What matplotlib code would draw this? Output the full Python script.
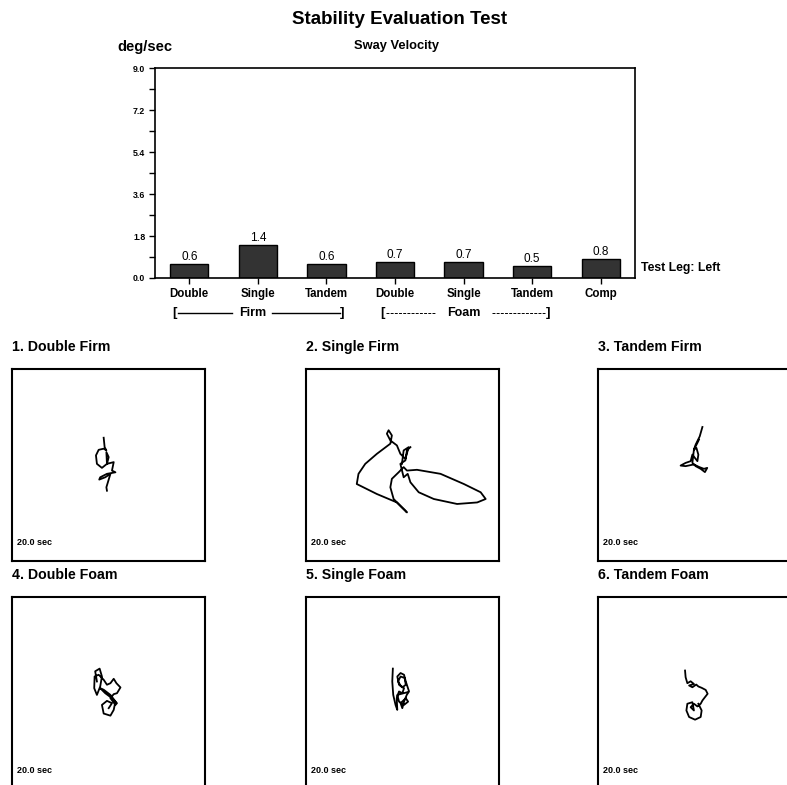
import matplotlib
matplotlib.use("Agg")
import matplotlib.pyplot as plt
import matplotlib.transforms as mtransforms

plt.rcParams['font.family'] = ['Liberation Sans Narrow', 'Liberation Sans', 'DejaVu Sans']

# Datos de la grafica de barras
pruebas = ["Double", "Single", "Tandem", "Double", "Single", "Tandem", "Comp"]
velocidades = [0.6, 1.4, 0.6, 0.7, 0.7, 0.5, 0.8]
marcas_y = [0.0, 1.8, 3.6, 5.4, 7.2, 9.0]
marcas_y_menores = [0.9, 2.7, 4.5, 6.3, 8.1]

# Trazos de balanceo (unidades 0-100 dentro de cada cuadro)
titulos = ["1. Double Firm", "2. Single Firm", "3. Tandem Firm",
           "4. Double Foam", "5. Single Foam", "6. Tandem Foam"]

traza1_x = [47.5, 48.0, 48.9, 47.5, 44.9, 43.5, 44.0, 46.6, 49.2, 50.1, 48.9,
            49.2, 52.7, 51.8, 53.6, 49.2, 45.7, 45.2, 48.3, 51.0, 48.9, 49.2]
traza1_y = [64.2, 59.3, 57.6, 58.5, 57.9, 55.0, 50.6, 48.5, 50.6, 54.1, 56.7,
            50.6, 51.5, 47.1, 46.2, 45.4, 43.6, 42.4, 43.6, 45.4, 38.4, 36.6]

traza2_x = [49.7, 50.6, 53.2, 51.5, 48.9, 47.1, 43.7, 41.9, 42.8, 44.5, 43.7,
            36.7, 30.7, 27.2, 26.3, 36.7, 47.1, 51.5, 52.3, 49.7, 45.4, 43.7,
            44.5, 48.0, 50.6, 52.3, 57.5, 69.7, 81.8, 90.5, 93.1, 88.7, 78.3,
            66.2, 58.4, 54.1, 52.7, 50.6, 48.9, 51.5, 52.3, 54.1]
traza2_y = [50.6, 57.6, 59.3, 53.2, 55.8, 60.2, 62.8, 66.3, 68.1, 65.4, 61.1,
            55.8, 50.6, 45.4, 40.1, 34.9, 30.5, 26.2, 25.3, 27.9, 32.3, 38.4,
            42.8, 46.2, 48.9, 47.1, 47.5, 45.4, 40.1, 35.8, 32.3, 30.5, 29.7,
            32.3, 35.8, 41.0, 45.4, 43.6, 50.6, 52.4, 57.6, 59.3]

traza3_x = [54.1, 52.7, 50.6, 49.7, 51.0, 52.0, 51.5, 48.9, 48.0, 45.4, 42.8,
            45.4, 49.7, 52.3, 54.9, 56.6, 55.4, 53.2, 50.6, 48.9, 49.7, 51.5, 52.3]
traza3_y = [69.8, 64.9, 60.6, 58.0, 58.9, 55.4, 52.0, 55.4, 52.0, 51.1, 49.7,
            49.4, 50.3, 49.0, 48.0, 48.5, 46.3, 48.0, 49.4, 51.1, 58.0, 61.5, 63.2]

traza4_x = [44.0, 43.1, 45.4, 46.6, 45.7, 44.0, 42.6, 42.8, 44.9, 47.5, 49.2,
            51.0, 52.7, 54.1, 56.2, 54.4, 52.7, 51.0, 53.6, 54.4, 51.8, 48.3,
            45.7, 47.5, 51.0, 53.6, 52.7, 51.0, 47.5, 46.6, 49.2, 51.8, 50.1]
traza4_y = [56.0, 61.3, 62.7, 58.6, 53.4, 49.0, 52.5, 58.6, 59.5, 56.9, 54.3,
            55.1, 57.4, 55.1, 52.9, 49.9, 49.4, 47.3, 43.8, 44.7, 47.3, 49.9,
            52.5, 51.7, 49.0, 45.6, 41.2, 38.2, 39.3, 43.8, 45.9, 44.7, 42.1]

traza5_x = [45.0, 44.7, 45.2, 46.4, 47.3, 47.0, 48.2, 49.9, 50.8, 49.0, 47.7,
            49.0, 51.1, 51.7, 49.9, 48.2, 47.3, 49.0, 50.8, 51.7, 53.4, 52.2,
            50.8, 49.9, 49.0, 51.7, 52.9, 50.8, 48.2, 47.3, 52.5]
traza5_y = [62.7, 56.0, 49.0, 43.8, 41.2, 47.3, 50.8, 49.9, 52.5, 53.9, 56.0,
            58.6, 57.8, 54.3, 52.9, 54.3, 58.6, 60.4, 59.5, 56.0, 50.8, 49.0,
            45.5, 42.1, 44.7, 47.3, 45.5, 43.8, 45.5, 49.0, 50.4]

traza6_x = [45.1, 45.4, 46.3, 48.0, 49.7, 47.2, 48.9, 50.9, 52.0, 53.7, 55.8,
            56.8, 55.4, 54.1, 53.2, 51.5, 49.7, 48.0, 49.7, 48.9, 46.3, 45.8,
            47.2, 50.3, 53.2, 53.7, 52.0]
traza6_y = [61.7, 58.2, 55.1, 56.1, 54.7, 53.9, 53.0, 54.4, 53.4, 52.7, 51.6,
            49.6, 47.8, 46.1, 44.4, 43.0, 44.4, 42.6, 40.9, 45.2, 44.4, 40.9,
            37.5, 36.1, 37.5, 40.9, 44.4]

trazas = [(traza1_x, traza1_y), (traza2_x, traza2_y), (traza3_x, traza3_y),
          (traza4_x, traza4_y), (traza5_x, traza5_y), (traza6_x, traza6_y)]

W, H = 787, 785
fig = plt.figure(figsize=(W / 100, H / 100), dpi=100)


def caja(x0, y0, ancho, alto):
    # convierte una caja en pixeles (arriba-izquierda) a fraccion de figura
    return [x0 / W, 1 - (y0 + alto) / H, ancho / W, alto / H]


# Titulos superiores
fig.text(400 / W, 1 - 20 / H, "Stability Evaluation Test", ha='center', va='center',
         fontsize=13.5, fontweight='bold')
fig.text(117 / W, 1 - 47 / H, "deg/sec", ha='left', va='center', fontsize=10.5, fontweight='bold')
fig.text(396 / W, 1 - 46 / H, "Sway Velocity", ha='center', va='center', fontsize=9.3, fontweight='bold')

# Grafica de barras
ax = fig.add_axes(caja(155, 68, 480, 210))
pos = list(range(len(pruebas)))
barras = ax.bar(pos, velocidades, width=0.56, color='#333333', edgecolor='black', linewidth=1)
for p, v in zip(pos, velocidades):
    ax.text(p, v + 0.05, f"{v:.1f}", ha='center', va='bottom', fontsize=8.5)
ax.set_xlim(-0.5, 6.5)
ax.set_ylim(0, 9)
ax.set_yticks(marcas_y)
ax.set_yticklabels([f"{t:.1f}" for t in marcas_y], fontsize=6.3, fontweight='bold')
ax.set_yticks(marcas_y_menores, minor=True)
ax.set_xticks(pos)
ax.set_xticklabels(pruebas, fontsize=8.3, fontweight='bold')
ax.tick_params(axis='both', which='major', direction='out', length=4, width=1)
ax.tick_params(axis='y', which='minor', direction='out', length=4, width=1)
ax.tick_params(axis='x', pad=3)
ax.tick_params(axis='y', pad=3)
for s in ax.spines.values():
    s.set_linewidth(1.2)
ax.text(1.013, 0.05, "Test Leg: Left", transform=ax.transAxes, ha='left', va='center',
        fontsize=8.8, fontweight='bold')

# Corchetes de grupos Firm / Foam
trans = mtransforms.blended_transform_factory(ax.transData, ax.transAxes)
yg = -0.167
ax.text(-0.22, yg, "[", transform=trans, ha='center', va='center', fontsize=9.5, fontweight='bold')
ax.text(2.23, yg, "]", transform=trans, ha='center', va='center', fontsize=9.5, fontweight='bold')
ax.text(0.92, yg, "Firm", transform=trans, ha='center', va='center', fontsize=9, fontweight='bold')
ax.plot([-0.17, 0.63], [yg, yg], transform=trans, color='black', lw=1, clip_on=False)
ax.plot([1.2, 2.2], [yg, yg], transform=trans, color='black', lw=1, clip_on=False)
ax.text(2.82, yg, "[", transform=trans, ha='center', va='center', fontsize=9.5, fontweight='bold')
ax.text(5.23, yg, "]", transform=trans, ha='center', va='center', fontsize=9.5, fontweight='bold')
ax.text(4.01, yg, "Foam", transform=trans, ha='center', va='center', fontsize=9, fontweight='bold')
ax.plot([2.87, 3.6], [yg, yg], transform=trans, color='black', lw=0.7, ls=(0, (3, 1.3)), clip_on=False)
ax.plot([4.42, 5.19], [yg, yg], transform=trans, color='black', lw=0.7, ls=(0, (3, 1.3)), clip_on=False)

# Cuadros de trayectoria
columnas = [12, 306, 598]
filas = [369, 597]
for i, (titulo, (tx, ty)) in enumerate(zip(titulos, trazas)):
    x0 = columnas[i % 3]
    y0 = filas[i // 3]
    fig.text(x0 / W, 1 - (y0 - 22) / H, titulo, ha='left', va='center',
             fontsize=10.2, fontweight='bold')
    a = fig.add_axes(caja(x0, y0, 193, 192))
    a.plot(tx, ty, color='black', lw=1.3)
    a.set_xlim(0, 100)
    a.set_ylim(0, 100)
    a.set_xticks([])
    a.set_yticks([])
    for s in a.spines.values():
        s.set_linewidth(1.5)
    a.text(0.027, 0.094, "20.0 sec", transform=a.transAxes, ha='left', va='center',
           fontsize=6.5, fontweight='bold')

fig.savefig("out.png", dpi=100)
